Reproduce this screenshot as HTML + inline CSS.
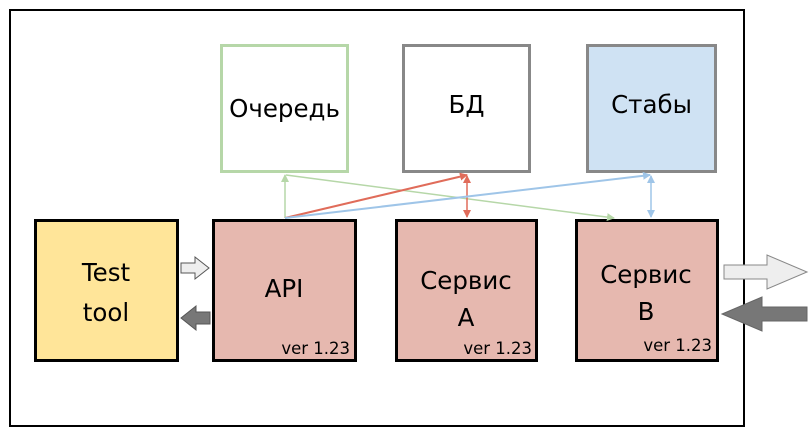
<!DOCTYPE html>
<html><head><meta charset="utf-8"><style>
body{margin:0;background:#fff;width:809px;height:438px;overflow:hidden}
svg text{font-family:"DejaVu Sans","Liberation Sans",sans-serif}
</style></head><body>
<svg width="809" height="438" viewBox="0 0 809 438">
<defs>
<marker id="g" markerWidth="8" markerHeight="8" refX="7" refY="4" orient="auto-start-reverse" markerUnits="userSpaceOnUse"><path d="M0,0 L8,4 L0,8 Z" fill="#b6d7a8"/></marker>
<marker id="r" markerWidth="8" markerHeight="8" refX="7" refY="4" orient="auto-start-reverse" markerUnits="userSpaceOnUse"><path d="M0,0 L8,4 L0,8 Z" fill="#e06c5a"/></marker>
<marker id="b" markerWidth="8" markerHeight="8" refX="7" refY="4" orient="auto-start-reverse" markerUnits="userSpaceOnUse"><path d="M0,0 L8,4 L0,8 Z" fill="#9fc5e8"/></marker>
</defs>
<rect x="10" y="10" width="734" height="416" fill="none" stroke="#000" stroke-width="2"/>
<rect x="221.5" y="45.5" width="126" height="126" fill="#fff" stroke="#b6d7a8" stroke-width="3"/>
<rect x="403.5" y="45.5" width="126" height="126" fill="#fff" stroke="#888" stroke-width="3"/>
<rect x="587.5" y="45.5" width="128" height="126" fill="#cfe2f3" stroke="#888" stroke-width="3"/>
<text x="284.5" y="117" font-size="24.5" text-anchor="middle">Очередь</text>
<text x="466.5" y="113" font-size="24.5" text-anchor="middle">БД</text>
<text x="651.5" y="113" font-size="24.5" text-anchor="middle">Стабы</text>
<rect x="35.5" y="220.5" width="142" height="140" fill="#ffe599" stroke="#000" stroke-width="3"/>
<rect x="213.5" y="220.5" width="142" height="140" fill="#e6b8af" stroke="#000" stroke-width="3"/>
<rect x="396.5" y="220.5" width="140" height="140" fill="#e6b8af" stroke="#000" stroke-width="3"/>
<rect x="576.5" y="220.5" width="141" height="140" fill="#e6b8af" stroke="#000" stroke-width="3"/>
<text x="106" y="281" font-size="24.5" text-anchor="middle">Test</text>
<text x="106" y="321" font-size="24.5" text-anchor="middle">tool</text>
<text x="284" y="297" font-size="24.5" text-anchor="middle">API</text>
<text x="466" y="289" font-size="24.5" text-anchor="middle">Сервис</text>
<text x="466" y="326" font-size="24.5" text-anchor="middle">A</text>
<text x="646" y="283" font-size="24.5" text-anchor="middle">Сервис</text>
<text x="646" y="320" font-size="24.5" text-anchor="middle">B</text>
<text x="350" y="354" font-size="16.5" text-anchor="end">ver 1.23</text>
<text x="532" y="354" font-size="16.5" text-anchor="end">ver 1.23</text>
<text x="712" y="351" font-size="16.5" text-anchor="end">ver 1.23</text>
<line x1="285" y1="218" x2="285" y2="175" stroke="#b6d7a8" stroke-width="1.5" marker-end="url(#g)"/>
<line x1="286" y1="175" x2="614" y2="218" stroke="#b6d7a8" stroke-width="1.5" marker-end="url(#g)"/>
<line x1="285" y1="218" x2="467" y2="175" stroke="#e06c5a" stroke-width="2" marker-end="url(#r)"/>
<line x1="467" y1="176" x2="467" y2="217" stroke="#e06c5a" stroke-width="1.5" marker-start="url(#r)" marker-end="url(#r)"/>
<line x1="285" y1="218" x2="650" y2="175" stroke="#9fc5e8" stroke-width="2" marker-end="url(#b)"/>
<line x1="651" y1="176" x2="651" y2="217" stroke="#9fc5e8" stroke-width="1.5" marker-start="url(#b)" marker-end="url(#b)"/>
<path d="M181,263 L195,263 L195,257 L209,268 L195,279 L195,273 L181,273 Z" fill="#eee" stroke="#555" stroke-width="1"/>
<path d="M210,312 L196,312 L196,306 L181,318 L196,330 L196,324 L210,324 Z" fill="#777" stroke="#555" stroke-width="1"/>
<path d="M724,265 L767,265 L767,255 L807,272 L767,289 L767,279 L724,279 Z" fill="#eee" stroke="#888" stroke-width="1"/>
<path d="M807,307 L762,307 L762,297 L722,314 L762,331 L762,321 L807,321 Z" fill="#777" stroke="#666" stroke-width="1"/>
</svg>
</body></html>
